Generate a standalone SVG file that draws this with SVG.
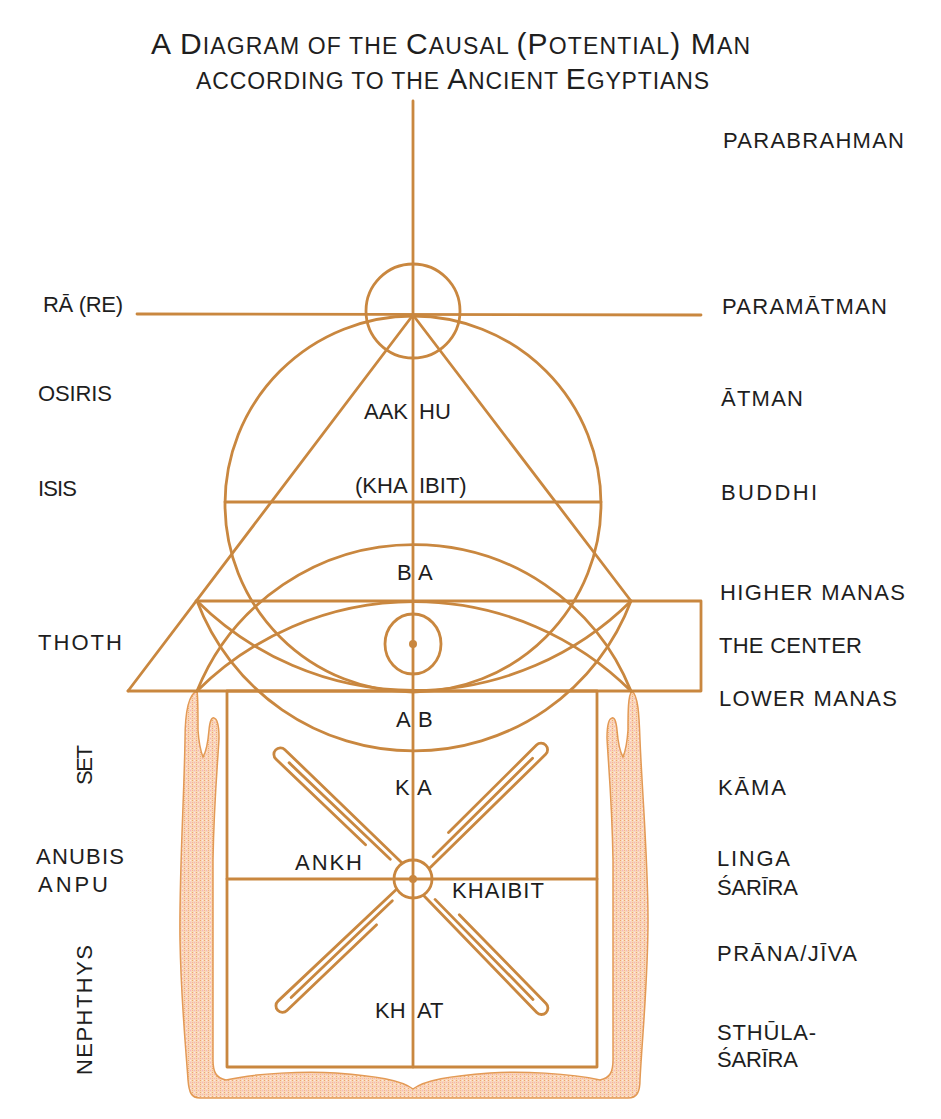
<svg xmlns="http://www.w3.org/2000/svg" width="941" height="1119" viewBox="0 0 941 1119">
<defs>
<style>
.ln{fill:none;stroke:#c9873f;stroke-width:2.8;stroke-linecap:round;stroke-linejoin:round}
.dot{fill:#c9873f}
.t{font-family:"Liberation Sans",Arial,sans-serif;font-size:22px;fill:#1e1e1e}
.ttl{font-family:"Liberation Sans",Arial,sans-serif;fill:#1e1e1e}
.B{font-size:30px}
.s{font-size:23px}
</style>
<pattern id="stip" width="4" height="4" patternUnits="userSpaceOnUse">
<rect width="4" height="4" fill="#f9d6ba"/>
<rect x="0" y="0" width="1" height="1" fill="#efa56c"/>
<rect x="2" y="2" width="1" height="1" fill="#f3b3c4"/>
<rect x="2" y="0" width="1" height="1" fill="#fdeada"/>
<rect x="0" y="2" width="1" height="1" fill="#f4b887"/>
</pattern>
<g id="petal">
<path class="ln" d="M20,4 L182,5 A6.5 6.5 0 0 0 182,-8 L58,-8"/>
<path class="ln" d="M30,-1.5 L170,-1.5"/>
</g>
</defs>
<rect width="941" height="1119" fill="#fff"/>

<g id="title">
<text class="ttl" x="151" y="54" textLength="599" lengthAdjust="spacing"><tspan class="B">A D</tspan><tspan class="s">IAGRAM OF THE </tspan><tspan class="B">C</tspan><tspan class="s">AUSAL </tspan><tspan class="B">(P</tspan><tspan class="s">OTENTIAL</tspan><tspan class="B">) M</tspan><tspan class="s">AN</tspan></text>
<text class="ttl" x="196" y="89" textLength="513" lengthAdjust="spacing"><tspan class="s">ACCORDING TO THE </tspan><tspan class="B">A</tspan><tspan class="s">NCIENT </tspan><tspan class="B">E</tspan><tspan class="s">GYPTIANS</tspan></text>
</g>

<g id="pillars">
<path fill="url(#stip)" stroke="#e39a55" stroke-width="1.5" d="M197,691 C189,694 185,710 185,740 C184,800 179,880 180,940 C181,1000 186,1050 188,1080 C189,1092 191,1098 200,1098 L628,1098 C637,1098 640,1092 640,1080 C642,1040 648,980 648,920 C648,860 642,790 640,740 C639,712 638,696 632,691 C628,695 628,712 628,730 C627,745 625,752 623,757 C620,752 618,742 617,730 C616,720 614,717 612,718 C608,719 607,728 607,738 C608,760 612,800 613,860 L613,1060 C613,1072 610,1078 600,1080 C570,1073 520,1071 490,1073 C450,1076 425,1080 413,1089 C401,1080 376,1076 336,1073 C306,1071 256,1073 226,1080 C216,1078 213,1072 213,1060 L213,860 C214,800 218,760 219,738 C219,728 218,719 214,718 C212,717 210,720 209,730 C208,742 206,752 203,757 C201,752 199,745 198,730 C198,712 198,695 197,691 Z"/>
</g>

<g id="connectors">
<line class="ln" x1="413" y1="101" x2="413" y2="1067"/>
<line class="ln" x1="137" y1="314" x2="701" y2="315"/>
<circle class="ln" cx="413" cy="311" r="47"/>
<circle class="ln" cx="413" cy="504" r="188"/>
<line class="ln" x1="225" y1="502" x2="601" y2="502"/>
<path class="ln" d="M128,691 L413,315 L631,601"/>
<path class="ln" d="M196,601 L701,601 L701,691 L128,691"/>
<path class="ln" d="M197,691 A308 308 0 0 1 631,691"/>
<path class="ln" d="M197,601 A308 308 0 0 0 631,601"/>
<path class="ln" d="M197,691 A234 234 0 0 1 631,691"/>
<path class="ln" d="M197,601 A232 232 0 0 0 631,601"/>
<ellipse class="ln" cx="413" cy="644" rx="28" ry="30"/>
<circle class="dot" cx="413" cy="644" r="4"/>
<rect class="ln" x="227" y="691" width="370" height="376"/>
<line class="ln" x1="227" y1="879" x2="597" y2="879"/>
<circle class="ln" cx="413" cy="879" r="19"/>
<circle class="dot" cx="413" cy="879" r="4"/>
<use href="#petal" transform="translate(413,879) rotate(-136.3)"/>
<use href="#petal" transform="translate(413,879) rotate(-44.8)"/>
<use href="#petal" transform="translate(413,879) rotate(136.3)"/>
<use href="#petal" transform="translate(413,879) rotate(45.6)"/>
</g>

<g id="labels-right">
<text class="t" x="723" y="148" textLength="181" lengthAdjust="spacing">PARABRAHMAN</text>
<text class="t" x="722" y="314" textLength="165" lengthAdjust="spacing">PARAMĀTMAN</text>
<text class="t" x="721" y="406" textLength="82" lengthAdjust="spacing">ĀTMAN</text>
<text class="t" x="721" y="500" textLength="96" lengthAdjust="spacing">BUDDHI</text>
<text class="t" x="720" y="600" textLength="185" lengthAdjust="spacing">HIGHER MANAS</text>
<text class="t" x="719" y="653" textLength="143" lengthAdjust="spacing">THE CENTER</text>
<text class="t" x="719" y="706" textLength="178" lengthAdjust="spacing">LOWER MANAS</text>
<text class="t" x="718" y="795" textLength="68" lengthAdjust="spacing">KĀMA</text>
<text class="t" x="717" y="866" textLength="73" lengthAdjust="spacing">LINGA</text>
<text class="t" x="717" y="895" textLength="81" lengthAdjust="spacing">ŚARĪRA</text>
<text class="t" x="717" y="961" textLength="140" lengthAdjust="spacing">PRĀNA/JĪVA</text>
<text class="t" x="717" y="1040" textLength="99" lengthAdjust="spacing">STHŪLA-</text>
<text class="t" x="717" y="1067" textLength="81" lengthAdjust="spacing">ŚARĪRA</text>
</g>

<g id="labels-left">
<text class="t" x="43" y="312" textLength="80" lengthAdjust="spacing">RĀ (RE)</text>
<text class="t" x="38" y="401" textLength="74" lengthAdjust="spacing">OSIRIS</text>
<text class="t" x="38" y="496" textLength="39" lengthAdjust="spacing">ISIS</text>
<text class="t" x="38" y="650" textLength="84" lengthAdjust="spacing">THOTH</text>
<text class="t" transform="translate(92,785) rotate(-90)" textLength="40" lengthAdjust="spacing">SET</text>
<text class="t" x="36" y="864" textLength="88" lengthAdjust="spacing">ANUBIS</text>
<text class="t" x="38" y="892" textLength="70" lengthAdjust="spacing">ANPU</text>
<text class="t" transform="translate(92,1075) rotate(-90)" textLength="130" lengthAdjust="spacing">NEPHTHYS</text>
</g>

<g id="labels-inner">
<text class="t"><tspan x="364" y="419">AAK</tspan><tspan x="419" y="419">HU</tspan></text>
<text class="t"><tspan x="355" y="493">(KHA</tspan><tspan x="419" y="493">IBIT)</tspan></text>
<text class="t"><tspan x="397" y="580">B</tspan><tspan x="418" y="580">A</tspan></text>
<text class="t"><tspan x="396" y="727">A</tspan><tspan x="418" y="727">B</tspan></text>
<text class="t"><tspan x="395" y="795">K</tspan><tspan x="417" y="795">A</tspan></text>
<text class="t" x="295" y="870" textLength="67" lengthAdjust="spacing">ANKH</text>
<text class="t" x="452" y="898" textLength="92" lengthAdjust="spacing">KHAIBIT</text>
<text class="t"><tspan x="375" y="1018">KH</tspan><tspan x="417" y="1018">AT</tspan></text>
</g>
</svg>
